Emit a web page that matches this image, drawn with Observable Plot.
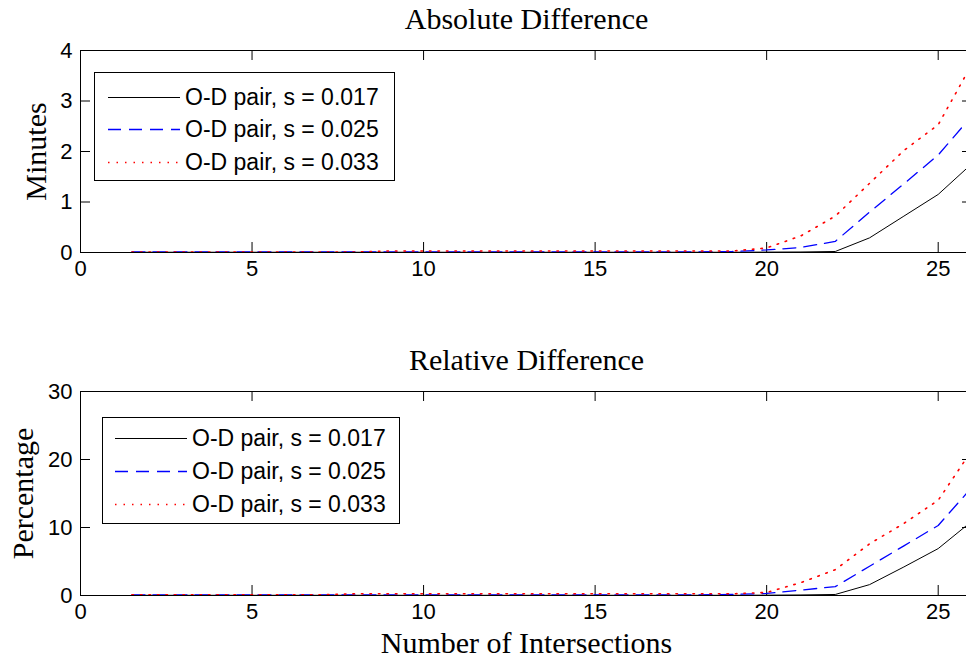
<!DOCTYPE html>
<html><head><meta charset="utf-8">
<script src="https://cdn.jsdelivr.net/npm/d3@7"></script>
<script src="https://cdn.jsdelivr.net/npm/@observablehq/plot@0.6"></script>
<style>
html,body{margin:0;padding:0;background:#fff;overflow:hidden;width:966px;height:663px;}
#wrap{position:relative;width:966px;height:663px;overflow:hidden;}
.panel{position:absolute;left:0;max-width:none !important;}
.legend{position:absolute;box-sizing:border-box;border:1px solid #000;background:#fff;font-family:"Liberation Sans",Arial,sans-serif;font-size:23px;color:#000;}
.row{position:absolute;height:32px;display:flex;align-items:center;white-space:nowrap;}
</style></head>
<body><div id="wrap"></div>
<script>
// ---- data ----
const xs = [1.5,2,3,4,5,6,7,8,9,10,11,12,13,14,15,16,17,18,19,20,21,22,23,24,25,26];
const xTicks = [0,5,10,15,20,25];
const absTicks = [0,1,2,3,4];
const relTicks = [0,10,20,30];
const seriesLabels = ["O-D pair, s = 0.017","O-D pair, s = 0.025","O-D pair, s = 0.033"];
const absBlack = [0.005,0.005,0.005,0.005,0.005,0.005,0.005,0.005,0.005,0.005,0.005,0.005,0.005,0.005,0.005,0.005,0.005,0.005,0.005,0.008,0.01,0.02,0.29,0.72,1.15,1.77];
const absBlue  = [0.012,0.012,0.012,0.012,0.012,0.012,0.012,0.012,0.012,0.012,0.012,0.012,0.012,0.012,0.012,0.012,0.012,0.012,0.02,0.05,0.1,0.22,0.8,1.36,1.93,2.72];
const absRed   = [0.01,0.01,0.01,0.01,0.01,0.01,0.01,0.01,0.03,0.03,0.03,0.03,0.03,0.03,0.03,0.03,0.03,0.03,0.03,0.09,0.33,0.72,1.37,2.02,2.53,3.75];
const relBlack = [0.03,0.03,0.03,0.03,0.03,0.03,0.03,0.03,0.03,0.03,0.03,0.03,0.03,0.03,0.03,0.03,0.03,0.03,0.03,0.05,0.08,0.15,1.6,4.2,6.9,11.0];
const relBlue  = [0.1,0.1,0.1,0.1,0.1,0.1,0.1,0.1,0.1,0.1,0.1,0.1,0.1,0.1,0.1,0.1,0.1,0.1,0.15,0.3,0.8,1.3,4.3,7.3,10.3,16.0];
const relRed   = [0.1,0.1,0.1,0.1,0.1,0.1,0.1,0.25,0.25,0.25,0.25,0.25,0.25,0.25,0.25,0.25,0.25,0.25,0.25,0.45,1.9,3.8,7.6,10.6,14.0,21.5];

// ---- styles ----
const colors = ["#000000","#0000ff","#ff0000"];
const dashes = [null,"13,8","1.5,7"];
const widths = [1,1.3,1.6];

const W = 990, ML = 80, MR = 18;
const serif = "Liberation Serif", serifSize = 30;

function panel({top, h, mt, mb, ydomain, yticks, series, title, ylabel, ylabelDx, xlabel}) {
  const plotW = W - ML - MR, plotH = h - mt - mb;
  const marks = [
    Plot.ruleX(xTicks, {x: d => d, insetTop: plotH - 10, stroke: "#000"}),
    Plot.ruleX(xTicks, {x: d => d, insetBottom: plotH - 10, stroke: "#000"}),
    Plot.ruleY(yticks, {y: d => d, insetRight: plotW - 10, stroke: "#000"}),
    Plot.ruleY(yticks, {y: d => d, insetLeft: plotW - 10, stroke: "#000"}),
    Plot.axisX({ticks: xTicks, tickSize: 0, tickPadding: 8, label: null, tickFormat: d => String(d)}),
    Plot.axisY({ticks: yticks, tickSize: 0, tickPadding: 8, label: null, tickFormat: d => String(d)}),
    Plot.text([title], {text: d => d, frameAnchor: "top", dy: -31, fontFamily: serif, fontSize: serifSize, lineAnchor: "middle", textAnchor: "middle"}),
    Plot.text([ylabel], {text: d => d, frameAnchor: "left", dx: ylabelDx, rotate: -90, fontFamily: serif, fontSize: serifSize, lineAnchor: "middle", textAnchor: "middle"})
  ];
  if (xlabel) marks.push(Plot.text([xlabel], {text: d => d, frameAnchor: "bottom", dy: 48, fontFamily: serif, fontSize: serifSize, lineAnchor: "middle", textAnchor: "middle"}));
  series.forEach((ys, i) => {
    marks.push(Plot.line(xs.map((x, j) => ({x, y: ys[j]})), {x: "x", y: "y", stroke: colors[i], strokeWidth: widths[i], strokeDasharray: dashes[i], curve: "linear"}));
  });
  marks.push(Plot.frame({stroke: "#000", strokeWidth: 1}));
  const svg = Plot.plot({
    width: W, height: h,
    marginTop: mt, marginBottom: mb, marginLeft: ML, marginRight: MR,
    x: {domain: [0, 26]},
    y: {domain: ydomain},
    style: {fontFamily: "Liberation Sans, Arial, sans-serif", fontSize: "22px", color: "#000", background: "#fff", overflow: "visible", maxWidth: "none"},
    marks
  });
  svg.classList.add("panel");
  svg.style.top = top + "px";
  svg.style.width = W + "px";
  svg.style.maxWidth = "none";
  document.getElementById("wrap").appendChild(svg);
}

panel({top: 0, h: 300, mt: 50, mb: 48, ydomain: [0, 4], yticks: absTicks,
  series: [absBlack, absBlue, absRed], title: "Absolute Difference", ylabel: "Minutes", ylabelDx: -44});
panel({top: 330, h: 333, mt: 61, mb: 68, ydomain: [0, 30], yticks: relTicks,
  series: [relBlack, relBlue, relRed], title: "Relative Difference", ylabel: "Percentage", ylabelDx: -57, xlabel: "Number of Intersections"});

function legend(box, lineX0, lineX1, textX, rowYs) {
  const d = document.createElement("div");
  d.className = "legend";
  Object.assign(d.style, {left: box[0] + "px", top: box[1] + "px", width: (box[2] - box[0]) + "px", height: (box[3] - box[1]) + "px"});
  seriesLabels.forEach((lab, i) => {
    const r = document.createElement("div");
    r.className = "row";
    r.style.left = (lineX0 - box[0] - 1) + "px";
    r.style.top = (rowYs[i] - box[1] - 1 - 16) + "px";
    const sw = d3.create("svg").attr("width", lineX1 - lineX0).attr("height", 32);
    sw.append("line").attr("x1", 0).attr("x2", lineX1 - lineX0).attr("y1", 16.5).attr("y2", 16.5)
      .attr("stroke", colors[i]).attr("stroke-width", widths[i]).attr("stroke-dasharray", dashes[i]);
    r.appendChild(sw.node());
    const s = document.createElement("span");
    s.textContent = lab;
    s.style.marginLeft = (textX - lineX1) + "px";
    r.appendChild(s);
    d.appendChild(r);
  });
  document.getElementById("wrap").appendChild(d);
}
legend([94, 72, 395, 181], 108, 180, 185, [97, 129, 162]);
legend([102, 417, 400, 524], 115, 187, 192, [438, 471, 504]);
</script>
</body></html>
